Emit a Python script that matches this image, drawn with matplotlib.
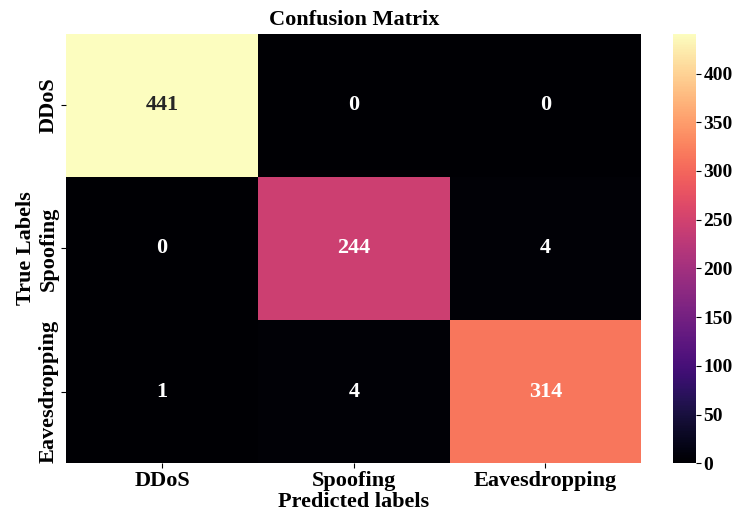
import matplotlib
matplotlib.use("Agg")
import matplotlib.pyplot as plt
import seaborn as sns
import numpy as np

# class names and confusion counts (rows: true, cols: predicted)
classes = ["DDoS", "Spoofing", "Eavesdropping"]
row_ddos = [441, 0, 0]
row_spoof = [0, 244, 4]
row_eaves = [1, 4, 314]
cm = np.array([row_ddos, row_spoof, row_eaves])
cbar_ticks = [0, 50, 100, 150, 200, 250, 300, 350, 400]

plt.rcParams['font.family'] = ['Liberation Serif', 'DejaVu Serif']
plt.rcParams['font.weight'] = 'bold'

fig = plt.figure(figsize=(7.37, 5.16), dpi=100)
ax = fig.add_axes([0.09, 0.102, 0.78, 0.833])
cax = fig.add_axes([0.913, 0.102, 0.031, 0.833])

sns.heatmap(cm, annot=True, fmt="d", cmap="magma", ax=ax, cbar_ax=cax,
            xticklabels=classes, yticklabels=classes,
            annot_kws={"fontsize": 16, "fontweight": "bold"})

ax.set_title("Confusion Matrix", fontsize=16, fontweight="bold", pad=6)
ax.set_xlabel("Predicted labels", fontsize=16, fontweight="bold", labelpad=1)
ax.set_ylabel("True Labels", fontsize=16, fontweight="bold", labelpad=2)
ax.tick_params(axis="both", labelsize=16, pad=2)
for lab in ax.get_xticklabels() + ax.get_yticklabels():
    lab.set_fontweight("bold")

cax.tick_params(labelsize=14, pad=2)
cax.set_yticks(cbar_ticks)
for lab in cax.get_yticklabels():
    lab.set_fontweight("bold")

fig.savefig("out.png", dpi=100)
